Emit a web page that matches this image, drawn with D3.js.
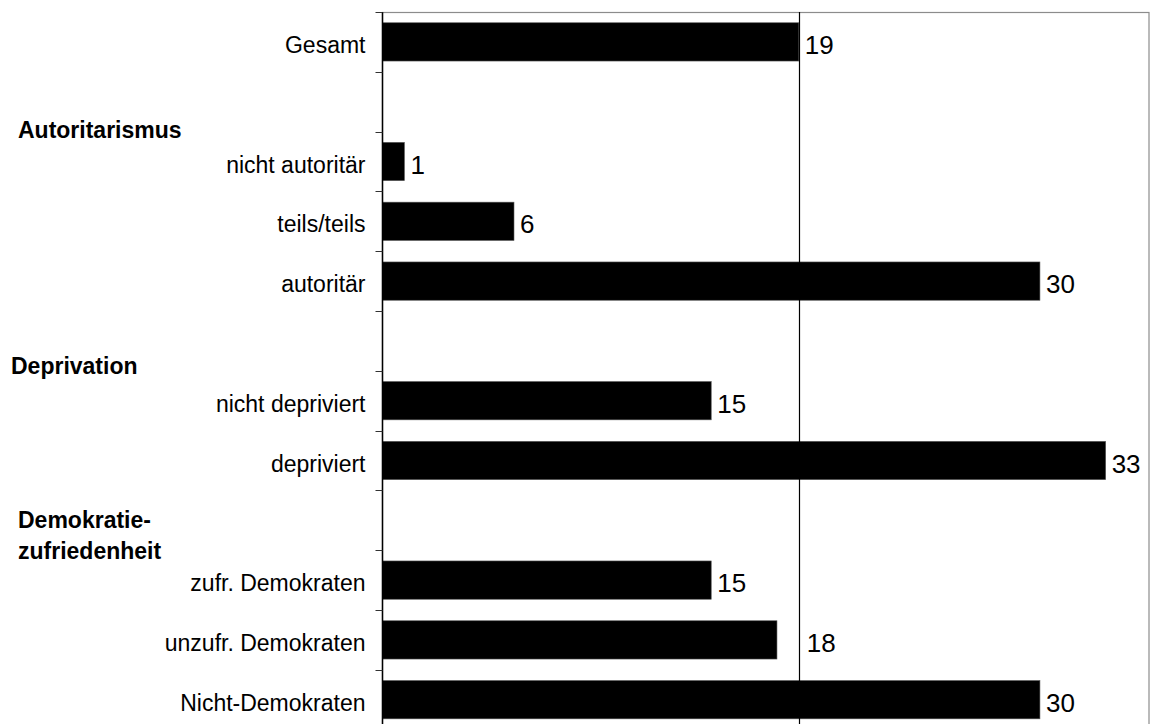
<!DOCTYPE html>
<html>
<head>
<meta charset="utf-8">
<script src="https://cdn.jsdelivr.net/npm/d3@7"></script>
<style>
  html, body { margin: 0; padding: 0; background: #fff; }
  svg { display: block; }
  text { font-family: "Liberation Sans", Arial, sans-serif; fill: #000; }
</style>
</head>
<body>
<svg id="chart" width="1151" height="724"></svg>
<script>
// ---- data ----
const categories = ["Gesamt", "", "nicht autoritär", "teils/teils", "autoritär", "",
  "nicht depriviert", "depriviert", "", "zufr. Demokraten", "unzufr. Demokraten", "Nicht-Demokraten"];
const values = [19, null, 1, 6, 30, null, 15, 33, null, 15, 18, 30];
const groupHeaders = ["Autoritarismus", "Deprivation", "Demokratie-\nzufriedenheit"];
const groupStartRows = [2, 6, 9];
const referenceValue = 19;
const xDomain = [0, 35];

// ---- layout ----
const svg = d3.select("#chart");
const plotLeft = 382.5, plotRight = 1149.5, plotTop = 12;
const step = 59.8;
const plotBottom = plotTop + step * categories.length;

const x = d3.scaleLinear().domain(xDomain).range([plotLeft, plotRight]);
const y = d3.scaleBand()
  .domain(d3.range(categories.length))
  .range([plotTop, plotBottom])
  .paddingInner(0.36)
  .paddingOuter(0.18);

// plot frame (grey)
svg.append("rect")
  .attr("x", plotLeft).attr("y", plotTop + 0.5)
  .attr("width", plotRight - plotLeft - 0.5).attr("height", plotBottom - plotTop + 20)
  .attr("fill", "none").attr("stroke", "#8c8c8c").attr("stroke-width", 1.2);

// bars
svg.append("g").selectAll("rect")
  .data(values.map((v, i) => ({v, i})).filter(d => d.v !== null))
  .join("rect")
  .attr("x", x(0))
  .attr("y", d => y(d.i))
  .attr("width", d => x(d.v) - x(0))
  .attr("height", y.bandwidth())
  .attr("fill", "#000")
  .attr("stroke", "#555").attr("stroke-width", 0.6);

// reference line
const refX = Math.round(x(referenceValue)) + 0.5;
svg.append("line")
  .attr("x1", refX).attr("x2", refX)
  .attr("y1", plotTop).attr("y2", plotBottom)
  .attr("stroke", "#000").attr("stroke-width", 1.2);

// y axis: ticks at band boundaries
const boundaries = d3.range(categories.length + 1).map(i => plotTop + i * step);
const axisG = svg.append("g");
axisG.append("line")
  .attr("x1", plotLeft).attr("x2", plotLeft).attr("y1", plotTop).attr("y2", plotBottom)
  .attr("stroke", "#000").attr("stroke-width", 1.5);
axisG.selectAll("line.tick").data(boundaries).join("line")
  .attr("class", "tick")
  .attr("x1", plotLeft - 7).attr("x2", plotLeft)
  .attr("y1", d => Math.round(d) + 0.5).attr("y2", d => Math.round(d) + 0.5)
  .attr("stroke", "#333").attr("stroke-width", 1);

// category labels
svg.append("g").selectAll("text")
  .data(categories.map((c, i) => ({c, i})).filter(d => d.c !== ""))
  .join("text")
  .attr("x", plotLeft - 17)
  .attr("y", d => y(d.i) + y.bandwidth() / 2 + 11)
  .attr("text-anchor", "end")
  .style("font-size", "23px")
  .text(d => d.c);

// value labels
const labelW = 30;
svg.append("g").selectAll("text")
  .data(values.map((v, i) => ({v, i})).filter(d => d.v !== null))
  .join("text")
  .attr("x", d => {
    let lx = x(d.v) + 6;
    const rx = x(referenceValue);
    if (d.v !== referenceValue && lx < rx && lx + labelW > rx) lx = rx + 8;
    return lx;
  })
  .attr("y", d => y(d.i) + y.bandwidth() / 2 + 12)
  .style("font-size", "26px")
  .text(d => d.v);

// group headers
const headerLayout = [
  {dx: 18, dy: [6.5]},
  {dx: 11, dy: [3]},
  {dx: 18, dy: [-22, 9]}
];
groupHeaders.forEach((h, k) => {
  const yb = plotTop + groupStartRows[k] * step;
  const lines = h.split("\n");
  lines.forEach((ln, j) => {
    svg.append("text")
      .attr("x", headerLayout[k].dx)
      .attr("y", yb + headerLayout[k].dy[j])
      .style("font-size", "23px")
      .style("font-weight", "bold")
      .text(ln);
  });
});
</script>
</body>
</html>
